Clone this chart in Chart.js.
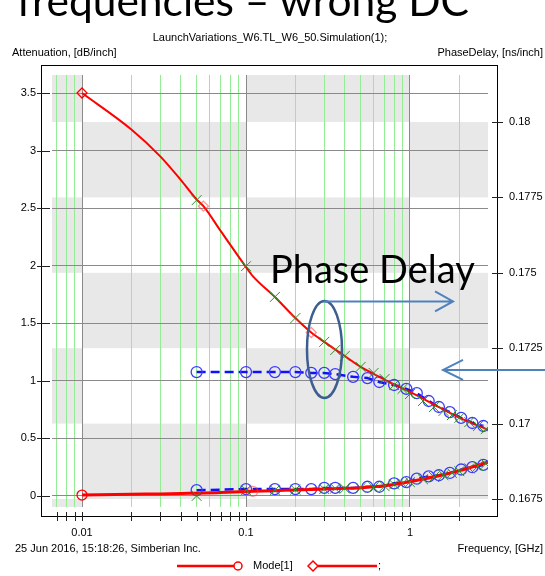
<!DOCTYPE html>
<html>
<head>
<meta charset="utf-8">
<script src="https://cdn.jsdelivr.net/npm/chart.js@4"></script>
<style>
body{margin:0;background:#fff}
#wrap{position:relative;width:545px;height:576px;overflow:hidden}
#c{position:absolute;left:0;top:0}
.t{position:absolute;font-family:'Liberation Sans',Arial,sans-serif;font-size:11px;line-height:13px;color:#000;white-space:nowrap}
.big{position:absolute;font-family:Lato,sans-serif;color:#000;white-space:nowrap}
</style>
</head>
<body>
<div id="wrap">
<canvas id="c" width="545" height="576"></canvas>
<div class="big" style="left:17px;top:-21px;font-size:42.5px;line-height:42.5px">frequencies – wrong DC</div>
<div class="t" style="left:0;width:540px;text-align:center;top:31px">LaunchVariations_W6.TL_W6_50.Simulation(1);</div>
<div class="t" style="left:12px;top:46px">Attenuation, [dB/inch]</div>
<div class="t" style="right:2px;top:46px">PhaseDelay, [ns/inch]</div>
<div class="t" style="left:15px;top:542px">25 Jun 2016, 15:18:26, Simberian Inc.</div>
<div class="t" style="right:2px;top:542px">Frequency, [GHz]</div>
<div class="t" style="left:253px;top:559px">Mode[1]</div>
<div class="t" style="left:378px;top:559px">;</div>
<div class="big" style="left:270px;top:249px;font-size:38px;line-height:38px">Phase Delay</div>
</div>
<script>
// axis ticks
const attenTicks = [0, 0.5, 1, 1.5, 2, 2.5, 3, 3.5]
const delayTicks = [0.1675, 0.17, 0.1725, 0.175, 0.1775, 0.18]
const freqTicks = [0.007, 0.008, 0.009, 0.01, 0.02, 0.03, 0.04, 0.05, 0.06, 0.07, 0.08, 0.09,
    0.1, 0.2, 0.3, 0.4, 0.5, 0.6, 0.7, 0.8, 0.9, 1, 2]

// model (red lines)
const modelFreq = [0.01, 0.02, 0.03, 0.04, 0.05, 0.055, 0.07, 0.1, 0.11, 0.15, 0.2, 0.25, 0.3, 0.4, 0.5, 0.6, 0.8, 1, 1.5, 2, 3]
const modelAtten = [0.008, 0.015, 0.018, 0.021, 0.024, 0.025, 0.03, 0.038, 0.04, 0.046, 0.052, 0.056, 0.06, 0.066, 0.072, 0.08, 0.1, 0.125, 0.175, 0.22, 0.295]
const modelDelay = [0.18096, 0.17975, 0.17886, 0.17808, 0.17743, 0.17721, 0.17639, 0.17519, 0.17489, 0.1742, 0.1735, 0.17302, 0.17271, 0.17224, 0.17188, 0.17165, 0.1713, 0.17105, 0.17055, 0.1702, 0.16979]
const attenMarkFreq = [0.01, 0.11]
const delayMarkFreq = [0.01, 0.055, 0.25]

// measured (blue dashed, circles)
const measFreq = [0.05, 0.1, 0.15, 0.2, 0.25, 0.3, 0.35, 0.45, 0.55, 0.65, 0.8, 0.95, 1.1, 1.3, 1.5, 1.75, 2.05, 2.4, 2.8]
const measAtten = [0.05, 0.06, 0.06, 0.06, 0.06, 0.07, 0.07, 0.07, 0.08, 0.08, 0.11, 0.12, 0.15, 0.17, 0.18, 0.2, 0.23, 0.25, 0.27]
const measDelay = [0.17171, 0.17171, 0.17171, 0.17171, 0.17168, 0.17168, 0.17164, 0.17155, 0.17151, 0.17138, 0.17128, 0.17115, 0.17101, 0.17075, 0.17055, 0.17038, 0.17019, 0.17002, 0.16992]

// fitted points (green crosses)
const fitFreq = [0.05, 0.1, 0.15, 0.2, 0.3, 0.35, 0.4, 0.5, 0.6, 0.7, 0.8, 0.9, 1, 1.2, 1.4, 1.6, 1.8, 2, 2.3, 2.6, 2.9]
const fitAtten = [0, 0.05, 0.05, 0.055, 0.06, 0.065, 0.065, 0.07, 0.075, 0.085, 0.1, 0.11, 0.12, 0.145, 0.165, 0.18, 0.2, 0.215, 0.24, 0.26, 0.28]
const fitDelay = [0.17741, 0.17522, 0.1742, 0.1735, 0.17271, 0.17244, 0.17224, 0.17188, 0.17168, 0.17148, 0.17128, 0.17115, 0.17098, 0.17075, 0.17055, 0.17042, 0.17028, 0.17019, 0.17005, 0.16992, 0.16982]

// annotation anchors (data units)
const ovalFreq = 0.301, ovalDelay = 0.17246
const arrowTipFreq = 1.83
const backArrowFreq = 1.59, backArrowDelay = 0.17178

const pts = (xs, ys) => xs.map((x, i) => ({x, y: ys[i]}))
const isDecade = v => Math.abs(Math.log10(v) - Math.round(Math.log10(v))) < 1e-9
const markRadius = (marks, r) => modelFreq.map(f => marks.includes(f) ? r : 0)
const markColor = marks => modelFreq.map(f => f === marks[0] ? '#ff0000' : 'rgba(255,60,60,0.55)')
const font = {family: "'Liberation Sans', Arial, sans-serif", size: 11}

const paper = {
    id: 'paper',
    beforeDraw(chart) {
        const {ctx, chartArea: a, scales: {x, y1}} = chart
        const cols = [a.left, x.getPixelForValue(0.01), x.getPixelForValue(0.1), x.getPixelForValue(1), a.right]
        const rows = [a.top, ...delayTicks.slice().reverse().map(v => y1.getPixelForValue(v)), a.bottom]
        ctx.save()
        ctx.fillStyle = '#e8e8e8'
        for (let c = 0; c < cols.length - 1; c++) {
            for (let r = 0; r < rows.length - 1; r++) {
                if ((c + r) % 2 === 0) ctx.fillRect(cols[c], rows[r], cols[c + 1] - cols[c], rows[r + 1] - rows[r])
            }
        }
        ctx.restore()
    },
    afterDraw(chart) {
        const {ctx, chartArea: a, scales: {x, y, y1}} = chart
        ctx.save()
        // frame
        const fl = a.left - 11, ft = a.top - 10, fr = a.right + 9, fb = a.bottom + 9
        ctx.strokeStyle = '#000'
        ctx.lineWidth = 1
        ctx.strokeRect(fl + 0.5, ft + 0.5, fr - fl, fb - ft)
        // tick marks
        ctx.strokeStyle = '#222'
        ctx.beginPath()
        attenTicks.forEach(v => {
            const p = Math.round(y.getPixelForValue(v)) + 0.5
            ctx.moveTo(fl - 4, p); ctx.lineTo(fl + 9, p)
        })
        delayTicks.forEach(v => {
            const p = Math.round(y1.getPixelForValue(v)) + 0.5
            ctx.moveTo(fr - 5, p); ctx.lineTo(fr + 6, p)
        })
        freqTicks.forEach(v => {
            const p = Math.round(x.getPixelForValue(v)) + 0.5
            ctx.moveTo(p, fb - 4); ctx.lineTo(p, fb + 5)
        })
        ctx.stroke()
        // oval + arrows
        const cx = x.getPixelForValue(ovalFreq), cy = y1.getPixelForValue(ovalDelay)
        ctx.strokeStyle = '#3d5f8f'
        ctx.lineWidth = 2.5
        ctx.beginPath()
        ctx.ellipse(cx, cy, 17.5, 48.5, 0, 0, Math.PI * 2)
        ctx.stroke()
        ctx.strokeStyle = '#4f81bd'
        ctx.lineWidth = 2
        const ay = cy - 48, ax = x.getPixelForValue(arrowTipFreq)
        ctx.beginPath()
        ctx.moveTo(cx - 1, ay); ctx.lineTo(ax, ay)
        ctx.moveTo(ax - 18, ay - 10); ctx.lineTo(ax, ay); ctx.lineTo(ax - 18, ay + 10)
        const by = y1.getPixelForValue(backArrowDelay), bx = x.getPixelForValue(backArrowFreq)
        ctx.moveTo(chart.width, by); ctx.lineTo(bx, by)
        ctx.moveTo(bx + 20, by - 10); ctx.lineTo(bx, by); ctx.lineTo(bx + 20, by + 10)
        ctx.stroke()
        // legend swatches
        ctx.strokeStyle = '#ff0000'
        ctx.lineWidth = 2.5
        ctx.beginPath()
        ctx.moveTo(177, 566); ctx.lineTo(234, 566)
        ctx.moveTo(318, 566); ctx.lineTo(377, 566)
        ctx.stroke()
        ctx.lineWidth = 1.5
        ctx.beginPath()
        ctx.arc(238, 566, 4, 0, Math.PI * 2)
        ctx.stroke()
        ctx.beginPath()
        ctx.moveTo(308, 566); ctx.lineTo(313, 561); ctx.lineTo(318, 566); ctx.lineTo(313, 571); ctx.closePath()
        ctx.stroke()
        ctx.restore()
    }
}

new Chart(document.getElementById('c'), {
    type: 'line',
    plugins: [paper],
    data: {
        datasets: [
            {
                label: 'fit attenuation', yAxisID: 'y', data: pts(fitFreq, fitAtten),
                showLine: false, pointStyle: 'crossRot', pointRadius: 7,
                pointBorderColor: '#2f8f2f', pointBorderWidth: 1
            },
            {
                label: 'fit delay', yAxisID: 'y1', data: pts(fitFreq, fitDelay),
                showLine: false, pointStyle: 'crossRot', pointRadius: 7,
                pointBorderColor: '#2f8f2f', pointBorderWidth: 1
            },
            {
                label: 'Mode[1]', yAxisID: 'y', data: pts(modelFreq, modelAtten),
                borderColor: '#ff0000', borderWidth: 3, pointStyle: 'circle', cubicInterpolationMode: 'monotone',
                pointRadius: markRadius(attenMarkFreq, 5), pointBorderColor: markColor(attenMarkFreq),
                pointBackgroundColor: 'rgba(0,0,0,0)', pointBorderWidth: 1.3
            },
            {
                label: 'delay', yAxisID: 'y1', data: pts(modelFreq, modelDelay),
                borderColor: '#ff0000', borderWidth: 2, pointStyle: 'rectRot', cubicInterpolationMode: 'monotone',
                pointRadius: markRadius(delayMarkFreq, 5), pointBorderColor: markColor(delayMarkFreq),
                pointBackgroundColor: 'rgba(0,0,0,0)', pointBorderWidth: 1.3
            },
            {
                label: 'meas attenuation', yAxisID: 'y', data: pts(measFreq, measAtten),
                borderColor: '#1010ff', borderWidth: 2.5, borderDash: [9, 5],
                pointRadius: 5.5, pointBorderColor: '#3a3aff', pointBackgroundColor: 'rgba(0,0,0,0)', pointBorderWidth: 1.3
            },
            {
                label: 'meas delay', yAxisID: 'y1', data: pts(measFreq, measDelay),
                borderColor: '#1010ff', borderWidth: 2.5, borderDash: [9, 5],
                pointRadius: 5.5, pointBorderColor: '#3a3aff', pointBackgroundColor: 'rgba(0,0,0,0)', pointBorderWidth: 1.3
            }
        ]
    },
    options: {
        responsive: false,
        animation: false,
        layout: {padding: {top: 75}},
        plugins: {legend: {display: false}, tooltip: {enabled: false}},
        scales: {
            x: {
                type: 'logarithmic', min: 0.006561, max: 2.99,
                afterBuildTicks: s => { s.ticks = freqTicks.map(v => ({value: v})) },
                afterFit: s => { s.height = 69 },
                border: {display: false},
                grid: {drawTicks: false, color: c => c.tick && isDecade(c.tick.value) ? '#8a8a8a' : '#94ec94'},
                ticks: {autoSkip: false, maxRotation: 0, padding: 19, color: '#000', font,
                    callback: v => isDecade(v) ? String(v) : ''}
            },
            y: {
                position: 'left', min: -0.096, max: 3.66,
                afterBuildTicks: s => { s.ticks = attenTicks.map(v => ({value: v})) },
                afterFit: s => { s.width = 52 },
                border: {display: false},
                grid: {drawTicks: false, color: '#8a8a8a'},
                ticks: {padding: 16, color: '#000', font, callback: v => String(+v.toFixed(2))}
            },
            y1: {
                position: 'right', min: 0.167235, max: 0.181558,
                afterBuildTicks: s => { s.ticks = delayTicks.map(v => ({value: v})) },
                afterFit: s => { s.width = 57 },
                border: {display: false},
                grid: {display: false, drawTicks: false},
                ticks: {padding: 21, color: '#000', font, callback: v => String(+v.toFixed(4))}
            }
        }
    }
})
</script>
</body>
</html>
